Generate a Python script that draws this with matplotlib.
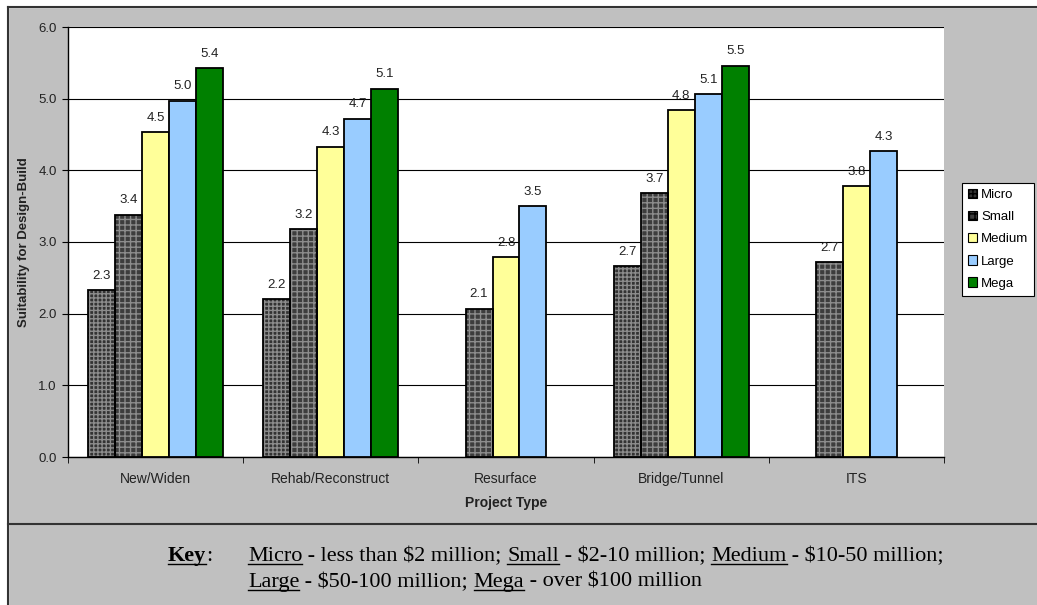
import matplotlib
matplotlib.use('Agg')
import matplotlib.pyplot as plt
from matplotlib.lines import Line2D
from matplotlib.patches import Rectangle, Patch
import numpy as np

plt.rcParams['font.family'] = ['Liberation Sans', 'DejaVu Sans']

categories = ['New/Widen', 'Rehab/Reconstruct', 'Resurface', 'Bridge/Tunnel', 'ITS']
sizes = ['Micro', 'Small', 'Medium', 'Large', 'Mega']
micro = [2.33, 2.20, np.nan, 2.66, np.nan]
small = [3.38, 3.18, 2.07, 3.68, 2.72]
medium = [4.53, 4.33, 2.79, 4.84, 3.78]
large = [4.97, 4.72, 3.50, 5.06, 4.27]
mega = [5.43, 5.14, np.nan, 5.46, np.nan]
series = [micro, small, medium, large, mega]

face = ['#333333', '#3d3d3d', '#ffff99', '#99ccff', '#008000']
hatch = ['++++', '+++', None, None, None]

W, H = 1037, 605
fig = plt.figure(figsize=(W / 100, H / 100), dpi=100, facecolor='#c0c0c0')
ax = fig.add_axes([68 / W, 1 - 457 / H, (944 - 68) / W, (457 - 27) / H])
ax.set_facecolor('white')

x = np.arange(len(categories))
bw = 0.154
handles = []
for i, vals in enumerate(series):
    pos = x + (i - 2) * bw
    v = np.array(vals, dtype=float)
    if hatch[i]:
        ax.bar(pos, v, bw, color=face[i], edgecolor='#8c8c8c', hatch=hatch[i], linewidth=0, zorder=3)
        ax.bar(pos, v, bw, fill=False, edgecolor='black', linewidth=1.3, zorder=4)
    else:
        ax.bar(pos, v, bw, color=face[i], edgecolor='black', linewidth=1.3, zorder=3)
    handles.append(Patch(facecolor=face[i], edgecolor='black', hatch=hatch[i], linewidth=0.8, label=sizes[i]))
    for px, val in zip(pos, v):
        if not np.isnan(val):
            ax.annotate('%.1f' % val, (px, val), xytext=(0, 6), textcoords='offset points',
                        ha='center', va='bottom', fontsize=9.5, color='#222222', zorder=5)

ax.set_ylim(0, 6)
ax.set_xlim(-0.5, len(categories) - 0.5)
ax.set_yticks(np.arange(0, 6.1, 1.0))
ax.set_yticklabels(['%.1f' % t for t in np.arange(0, 6.1, 1.0)], fontsize=9.5, color='#222222')
ax.yaxis.grid(True, color='black', linewidth=0.8, zorder=0)
ax.set_axisbelow(True)
ax.set_xticks(x)
ax.set_xticklabels(categories, fontsize=10, color='#222222')
ax.tick_params(axis='x', length=0, pad=11)
ax.set_xticks(np.arange(-0.5, len(categories), 1.0), minor=True)
ax.tick_params(axis='x', which='minor', length=4, direction='out')
ax.tick_params(axis='y', length=4, direction='out', pad=4)
for s in ['top', 'right']:
    ax.spines[s].set_visible(False)
ax.spines['left'].set_linewidth(1.0)
ax.spines['bottom'].set_linewidth(1.0)
ax.set_xlabel('Project Type', fontsize=10, fontweight='bold', labelpad=7, color='#222222')
ax.set_ylabel('Suitability for Design-Build', fontsize=9.5, fontweight='bold', color='#222222')
ax.yaxis.set_label_coords(-38 / (944 - 68), 0.5)

leg = fig.legend(handles=handles, loc='upper left', bbox_to_anchor=(962 / W, 1 - 183 / H), fontsize=9.5,
                 frameon=True, fancybox=False, edgecolor='black', facecolor='white', framealpha=1,
                 handlelength=0.7, handleheight=0.7, handletextpad=0.3, labelspacing=0.75,
                 borderpad=0.45, borderaxespad=0)
leg.get_frame().set_linewidth(0.8)

# frame lines and white margins
fig.add_artist(Rectangle((0, 1 - 7 / H), 1, 7 / H, transform=fig.transFigure, color='white', zorder=0))
fig.add_artist(Rectangle((0, 0), 8 / W, 1, transform=fig.transFigure, color='white', zorder=0))
fig.add_artist(Line2D([8 / W, 1], [1 - 7 / H, 1 - 7 / H], transform=fig.transFigure, color='#333333', lw=1.5))
fig.add_artist(Line2D([8 / W, 8 / W], [0, 1 - 7 / H], transform=fig.transFigure, color='#333333', lw=1.5))
fig.add_artist(Line2D([8 / W, 1], [1 - 524 / H, 1 - 524 / H], transform=fig.transFigure, color='#333333', lw=1.5))

# key text with underlined words
renderer = fig.canvas.get_renderer()
serif = ['Liberation Serif', 'DejaVu Serif']


def draw_runs(x0, ybase, runs):
    xp = x0
    for txt, under, bold in runs:
        t = fig.text(xp / W, 1 - ybase / H, txt, fontsize=16, family=serif, va='baseline', ha='left',
                     fontweight='bold' if bold else 'normal')
        bb = t.get_window_extent(renderer)
        if under:
            yl = 1 - (ybase + 3) / H
            fig.add_artist(Line2D([bb.x0 / W, bb.x1 / W], [yl, yl], transform=fig.transFigure,
                                  color='black', lw=1.0))
        xp = bb.x1


draw_runs(168, 561, [('Key', True, True), (':', False, False)])
draw_runs(248, 561, [('Micro', True, False), (' - less than $2 million; ', False, False),
                     ('Small', True, False), (' - $2-10 million; ', False, False),
                     ('Medium', True, False), (' - $10-50 million;', False, False)])
draw_runs(248, 587, [('Large', True, False), (' - $50-100 million; ', False, False),
                     ('Mega', True, False), (' - over $100 million', False, False)])

fig.savefig('out.png', dpi=100, facecolor=fig.get_facecolor())
